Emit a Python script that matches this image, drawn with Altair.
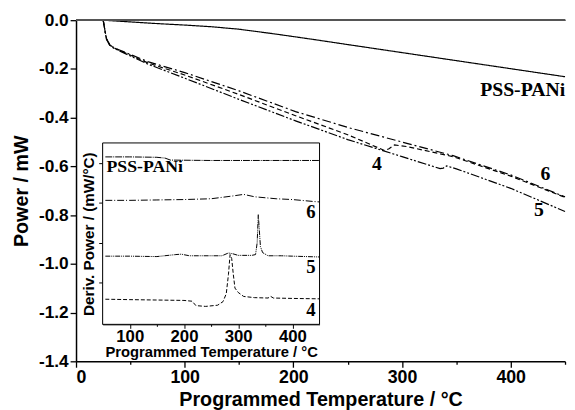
import altair as alt
import pandas as pd

# ---------------- main panel data (Power / mW vs programmed temperature) ----------------
pss_t = [25, 50, 75, 100, 125, 150, 184, 220, 250, 300, 350, 400, 450]
pss_p = [0.0, -0.007, -0.014, -0.020, -0.027, -0.037, -0.057, -0.080, -0.100, -0.133, -0.166, -0.199, -0.232]

c6_t = [25, 26.5, 28, 31, 35, 40, 66, 100, 150, 202, 250, 300, 347, 400, 450]
c6_p = [0.0, -0.040, -0.075, -0.100, -0.113, -0.122, -0.170, -0.215, -0.290, -0.375, -0.440, -0.500, -0.556, -0.635, -0.725]

c4_t = [25, 26.5, 28, 31, 35, 40, 66, 100, 150, 202, 250, 284, 288, 293, 305, 347, 400, 450]
c4_p = [0.0, -0.040, -0.076, -0.101, -0.114, -0.124, -0.175, -0.225, -0.305, -0.392, -0.470, -0.535, -0.528, -0.512, -0.519, -0.560, -0.640, -0.727]

c5_t = [25, 26.5, 28, 31, 35, 40, 66, 100, 150, 202, 250, 300, 335, 338, 341, 350, 400, 450]
c5_p = [0.0, -0.040, -0.078, -0.103, -0.116, -0.126, -0.180, -0.238, -0.325, -0.413, -0.490, -0.560, -0.609, -0.607, -0.598, -0.610, -0.690, -0.785]

# ---------------- inset data (derivative power, arbitrary offset units) ----------------
i_pss_t = [55, 100, 150, 165, 175, 250, 350, 450]
i_pss_v = [4.15, 4.15, 4.14, 4.12, 4.07, 4.06, 4.06, 4.06]

i6_t = [55, 100, 150, 200, 250, 290, 310, 330, 370, 400, 440, 450]
i6_v = [3.06, 3.06, 3.07, 3.08, 3.10, 3.17, 3.21, 3.15, 3.10, 3.08, 3.03, 3.02]

i5_t = [55, 100, 150, 185, 195, 210, 270, 282, 290, 300, 325, 332, 335, 337, 339, 341, 345, 355, 380, 400, 450]
i5_v = [1.66, 1.66, 1.65, 1.70, 1.71, 1.67, 1.67, 1.74, 1.72, 1.68, 1.68, 1.70, 2.00, 2.70, 2.30, 1.90, 1.75, 1.67, 1.67, 1.66, 1.64]

i4_t = [55, 100, 150, 200, 215, 222, 240, 262, 272, 278, 282, 285, 288, 291, 294, 300, 310, 330, 355, 360, 365, 400, 450]
i4_v = [0.58, 0.57, 0.56, 0.55, 0.53, 0.42, 0.40, 0.43, 0.52, 0.72, 1.20, 1.70, 1.60, 1.20, 0.86, 0.75, 0.65, 0.62, 0.61, 0.65, 0.61, 0.60, 0.59]

series_names = ["PSS-PANi", "4", "5", "6"]


def long(ts, vs, name):
    return pd.DataFrame({"T": ts, "P": vs, "S": name})


main_df = pd.concat([
    long(pss_t, pss_p, "PSS-PANi"),
    long(c4_t, c4_p, "4"),
    long(c5_t, c5_p, "5"),
    long(c6_t, c6_p, "6"),
], ignore_index=True)

inset_df = pd.concat([
    long(i_pss_t, i_pss_v, "PSS-PANi"),
    long(i4_t, i4_v, "4"),
    long(i5_t, i5_v, "5"),
    long(i6_t, i6_v, "6"),
], ignore_index=True)

main_labels = pd.DataFrame({
    "T": [411, 277, 432, 426],
    "P": [-0.285, -0.592, -0.632, -0.778],
    "txt": ["PSS-PANi", "4", "6", "5"],
})
inset_title_lbl = pd.DataFrame({"T": [57], "P": [3.906], "txt": ["PSS-PANi"]})
inset_num_lbl = pd.DataFrame({"T": [434, 434, 434], "P": [2.77, 1.38, 0.30], "txt": ["6", "5", "4"]})

W, H = 496, 346

# ---------------- main panel ----------------
xm = alt.Scale(domain=[0, 450], nice=False, zero=False)
ym = alt.Scale(domain=[-1.4, 0], nice=False, zero=False)

main_lines = alt.Chart(main_df).mark_line(color="black", strokeWidth=1.2).encode(
    x=alt.X("T:Q", scale=xm, axis=alt.Axis(
        orient="bottom",
        values=list(range(0, 451, 50)),
        labelExpr="datum.value % 100 == 0 ? datum.label : ''",
        tickSize={"condition": {"test": "datum.value % 100 != 0", "value": 3}, "value": 6},
        title="Programmed Temperature / °C",
        labelFontSize=18, titleFontSize=20, labelPadding=2, titlePadding=3,
        domainWidth=1.5, tickWidth=1.3,
    )),
    y=alt.Y("P:Q", scale=ym, axis=alt.Axis(
        orient="left",
        values=[round(-0.1 * i, 1) for i in range(15)],
        labelExpr="round(datum.value*10) % 2 == 0 ? (datum.value < 0 ? '-' : '') + format(abs(datum.value), '.1f') : ''",
        tickSize={"condition": {"test": "round(datum.value*10) % 2 != 0", "value": 3}, "value": 6},
        title="Power / mW",
        labelFontSize=17.5, titleFontSize=20, labelPadding=2, titlePadding=7,
        domainWidth=1.5, tickWidth=1.3,
    )),
    strokeDash=alt.StrokeDash("S:N", scale=alt.Scale(
        domain=series_names,
        range=[[1, 0], [5, 3], [9, 2, 2, 2, 2, 2], [9, 3, 2, 3]]), legend=None),
)

top_rule = alt.Chart(main_df).mark_rule(color="#555555", strokeWidth=1).encode(
    x=alt.value(0), x2=alt.value(W), y=alt.value(0)
)

main_text = alt.Chart(main_labels).mark_text(
    font="Liberation Serif", fontWeight="bold", fontSize=20, color="black",
    align="center", baseline="middle"
).encode(x="T:Q", y="P:Q", text="txt:N")

main = alt.layer(main_lines, top_rule, main_text)

# ---------------- inset ----------------
xi = alt.Scale(domain=[50, 450], range=[27, 247], nice=False, zero=False)
yi = alt.Scale(domain=[-0.05, 4.5], range=[308.5, 124.5], nice=False, zero=False)

inset_box = alt.Chart(inset_title_lbl).mark_rect(fill="white", stroke="black", strokeWidth=1).encode(
    x=alt.datum(50), x2=alt.datum(450), y=alt.datum(-0.05), y2=alt.datum(4.5)
)

inset_lines = alt.Chart(inset_df).mark_line(color="black", strokeWidth=1).encode(
    x=alt.X("T:Q", scale=xi, axis=alt.Axis(
        orient="bottom", offset=-37.5,
        values=list(range(100, 401, 50)),
        labelExpr="datum.value % 100 == 0 ? datum.label : ''",
        tickSize={"condition": {"test": "datum.value % 100 != 0", "value": 2}, "value": 4},
        title="Programmed Temperature / °C",
        labelFontSize=17, titleFontSize=15, labelPadding=0, titlePadding=1,
        domainWidth=1, tickWidth=1,
    )),
    y=alt.Y("P:Q", scale=yi, axis=alt.Axis(
        orient="left", offset=-27,
        values=[1, 2, 3, 4], labels=False, tickSize=4,
        title="Deriv. Power / (mW/°C)",
        titleFontSize=15.5, titlePadding=2,
        domainWidth=1, tickWidth=1,
    )),
    strokeDash=alt.StrokeDash("S:N", scale=alt.Scale(
        domain=series_names,
        range=[[7, 1, 1, 1], [4, 2], [5, 1, 1, 1, 1, 1], [7, 2, 1, 2]]), legend=None),
)

inset_text_left = alt.Chart(inset_title_lbl).mark_text(
    font="Liberation Serif", fontWeight="bold", fontSize=18, color="black", baseline="middle", align="left"
).encode(x="T:Q", y="P:Q", text="txt:N")
inset_text_num = alt.Chart(inset_num_lbl).mark_text(
    font="Liberation Serif", fontWeight="bold", fontSize=19, color="black", baseline="middle", align="center"
).encode(x="T:Q", y="P:Q", text="txt:N")

inset = alt.layer(inset_box, inset_lines, inset_text_left, inset_text_num)

chart = alt.layer(main, inset).resolve_scale(
    x="independent", y="independent", strokeDash="independent"
).properties(
    width=W, height=H,
    autosize=alt.AutoSizeParams(type="none"),
    padding={"left": 69, "top": 9.5, "right": 2, "bottom": 46},
).configure_view(stroke=None).configure_axis(
    grid=False,
    domainColor="black", tickColor="black",
    labelColor="black", titleColor="black",
    labelFont="Liberation Sans", titleFont="Liberation Sans",
    labelFontWeight="bold", titleFontWeight="bold",
)

chart.save("out.html", embed_options={"renderer": "svg", "actions": False})
